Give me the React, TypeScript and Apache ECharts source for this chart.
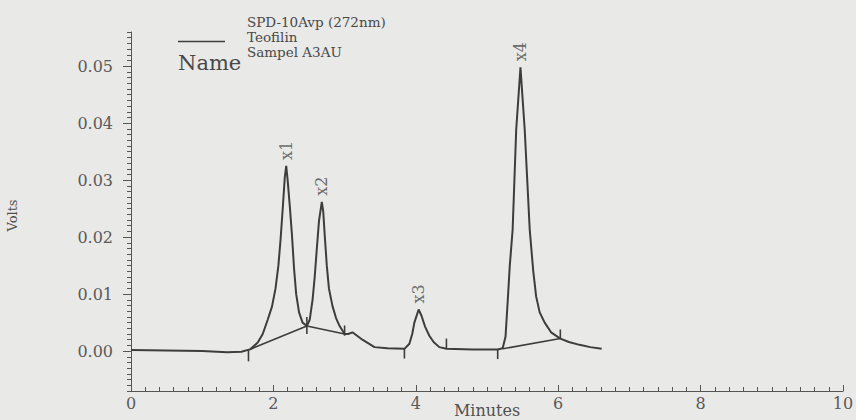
import React, { useEffect, useRef } from "react";
import * as echarts from "echarts";

// Chromatogram trace: [minutes, volts]
const trace: [number, number][] = [
  [0.0, 0.0002], [0.5, 0.0001], [1.0, 0.0], [1.35, -0.0002], [1.55, -0.0001],
  [1.67, 0.0003], [1.78, 0.0015], [1.85, 0.003], [1.92, 0.0055], [1.98, 0.0078],
  [2.03, 0.011], [2.07, 0.015], [2.1, 0.0195], [2.13, 0.0248], [2.16, 0.0305],
  [2.18, 0.0325], [2.2, 0.03], [2.23, 0.0255], [2.26, 0.0205], [2.29, 0.0145],
  [2.32, 0.01], [2.36, 0.0068], [2.41, 0.005], [2.47, 0.0044], [2.51, 0.0055],
  [2.55, 0.009], [2.58, 0.013], [2.61, 0.018], [2.64, 0.0228], [2.68, 0.0262],
  [2.7, 0.0245], [2.72, 0.0205], [2.75, 0.015], [2.78, 0.011], [2.83, 0.0079],
  [2.88, 0.0058], [2.93, 0.0044], [3.0, 0.003], [3.05, 0.003], [3.11, 0.0033],
  [3.25, 0.002], [3.42, 0.0007], [3.6, 0.0005], [3.84, 0.0004], [3.91, 0.0013],
  [3.95, 0.003], [3.98, 0.005], [4.04, 0.0073], [4.08, 0.0062], [4.13, 0.0043],
  [4.19, 0.0027], [4.25, 0.0016], [4.33, 0.0007], [4.43, 0.0004], [4.8, 0.0003],
  [5.15, 0.0003], [5.22, 0.0005], [5.26, 0.0025], [5.29, 0.0086], [5.32, 0.015],
  [5.36, 0.0213], [5.41, 0.0388], [5.47, 0.0498], [5.53, 0.0388], [5.6, 0.0213],
  [5.65, 0.014], [5.69, 0.0096], [5.74, 0.0068], [5.81, 0.005], [5.9, 0.0033],
  [6.03, 0.0022], [6.15, 0.0016], [6.3, 0.0011], [6.45, 0.0007], [6.61, 0.0004],
];

// Integration baselines
const baselineA: [number, number][] = [[1.67, 0.0003], [2.47, 0.0044], [3.0, 0.003]];
const baselineB: [number, number][] = [[5.22, 0.0004], [6.03, 0.0022]];

// Integration event marks: [minutes, from volts, to volts]
const eventMarks: [number, number, number][] = [
  [1.65, -0.0018, 0.0002],
  [2.47, 0.003, 0.006],
  [3.0, 0.0027, 0.0045],
  [3.84, -0.0013, 0.0004],
  [4.43, 0.0004, 0.0022],
  [5.15, -0.0014, 0.0003],
  [6.03, 0.0022, 0.0038],
];

// Peak labels
const peakNames = ["x1", "x2", "x3", "x4"];
const peakTimes = [2.18, 2.68, 4.04, 5.47];
const peakHeights = [0.0325, 0.0262, 0.0073, 0.0498];

// Axis ticks
const yMajorTicks = [0, 0.01, 0.02, 0.03, 0.04, 0.05];
const yTickLabels = ["0.00", "0.01", "0.02", "0.03", "0.04", "0.05"];

// Legend lines
const legendLines = ["SPD-10Avp (272nm)", "Teofilin", "Sampel A3AU"];
const seriesName = legendLines.join("\n");
const FONT = "DejaVu Serif";
const INK = "#3d3d3d";

export default function App() {
  const ref = useRef<HTMLDivElement>(null);

  useEffect(() => {
    if (!ref.current) return;
    const chart = echarts.init(ref.current, null, { renderer: "svg" });
    const option: any = {
      animation: false,
      backgroundColor: "#e9e9e7",
      grid: {
        left: 131,
        right: 13,
        top: 32,
        bottom: 29,
        containLabel: false,
        outerBoundsMode: "none",
      },
      legend: {
        show: true,
        left: 178,
        top: 15,
        padding: 0,
        icon: "rect",
        itemWidth: 47,
        itemHeight: 1.5,
        data: [{ name: seriesName }],
        formatter: () =>
          legendLines.map((l) => `{a|${l}}`).join("\n") + "\n{b| }",
        textStyle: {
          fontFamily: FONT,
          color: "#484848",
          padding: [0, 0, 0, 17],
          rich: {
            a: { fontFamily: FONT, fontSize: 13.5, lineHeight: 15, color: "#484848" },
            b: { fontSize: 8, lineHeight: 9 },
          },
        },
      },
      graphic: [
        {
          type: "text",
          left: 178,
          top: 52,
          style: {
            text: "Name",
            fontFamily: FONT,
            fontSize: 21,
            fill: "#484848",
          },
        },
      ],
      xAxis: {
        type: "value",
        min: 0,
        max: 10,
        interval: 2,
        name: "Minutes",
        nameLocation: "middle",
        nameGap: 11,
        nameMoveOverlap: false,
        nameTextStyle: { fontFamily: FONT, fontSize: 16, color: "#505050" },
        axisLine: { onZero: false, lineStyle: { color: "#555", width: 1 } },
        axisTick: { inside: true, length: 6, lineStyle: { color: "#555" } },
        minorTick: { show: true, splitNumber: 10, length: 4, lineStyle: { color: "#555" } },
        axisLabel: { fontFamily: FONT, fontSize: 16, color: "#5a5a5a", margin: 4 },
        splitLine: { show: false },
      },
      yAxis: [
        {
          type: "value",
          min: -0.007,
          max: 0.056,
          name: "Volts",
          nameLocation: "middle",
          nameGap: 112,
          nameMoveOverlap: false,
          nameTextStyle: { fontFamily: FONT, fontSize: 13, color: "#505050", padding: [0, 8, 0, 0] },
          axisLine: { show: true, lineStyle: { color: "#555", width: 1 } },
          axisTick: {
            show: true,
            inside: false,
            length: 8,
            customValues: yMajorTicks,
            lineStyle: { color: "#555" },
          },
          axisLabel: {
            fontFamily: FONT,
            fontSize: 16,
            color: "#5a5a5a",
            margin: 18,
            customValues: yMajorTicks,
            formatter: (v: number) => {
              const i = yMajorTicks.findIndex((t) => Math.abs(t - v) < 1e-9);
              return i >= 0 ? yTickLabels[i] : "";
            },
          },
          splitLine: { show: false },
        },
        {
          type: "value",
          min: -0.007,
          max: 0.056,
          interval: 0.001,
          position: "left",
          offset: 0,
          axisLine: { show: false },
          axisTick: { show: true, inside: false, length: 4, lineStyle: { color: "#555" } },
          axisLabel: { show: false },
          splitLine: { show: false },
        },
      ],
      series: [
        {
          name: seriesName,
          type: "line",
          data: trace,
          symbol: "none",
          color: INK,
          lineStyle: { color: INK, width: 2 },
          z: 3,
        },
        {
          name: "baselineA",
          type: "line",
          data: baselineA,
          symbol: "none",
          lineStyle: { color: INK, width: 1.6 },
          z: 2,
        },
        {
          name: "baselineB",
          type: "line",
          data: baselineB,
          symbol: "none",
          lineStyle: { color: INK, width: 1.6 },
          z: 2,
        },
        {
          name: "events",
          type: "custom",
          data: eventMarks,
          encode: { x: 0, y: [1, 2] },
          renderItem: (params: any, api: any) => {
            const p1 = api.coord([api.value(0), api.value(1)]);
            const p2 = api.coord([api.value(0), api.value(2)]);
            return {
              type: "line",
              shape: { x1: p1[0], y1: p1[1], x2: p2[0], y2: p2[1] },
              style: { stroke: INK, lineWidth: 1.6 },
            };
          },
          z: 4,
        },
        {
          name: "peaks",
          type: "scatter",
          symbolSize: 0,
          data: peakTimes.map((t, i) => ({ value: [t, peakHeights[i]], name: peakNames[i] })),
          label: {
            show: true,
            position: "top",
            distance: 6,
            rotate: 90,
            align: "left",
            verticalAlign: "middle",
            formatter: (p: any) => p.name,
            fontFamily: FONT,
            fontSize: 16,
            color: "#4a4a4a",
          },
          z: 5,
        },
      ],
    };
    chart.setOption(option);
    return () => chart.dispose();
  }, []);

  return (
    <div
      ref={ref}
      style={{ position: "fixed", left: 0, top: 0, width: 856, height: 420 }}
    />
  );
}
